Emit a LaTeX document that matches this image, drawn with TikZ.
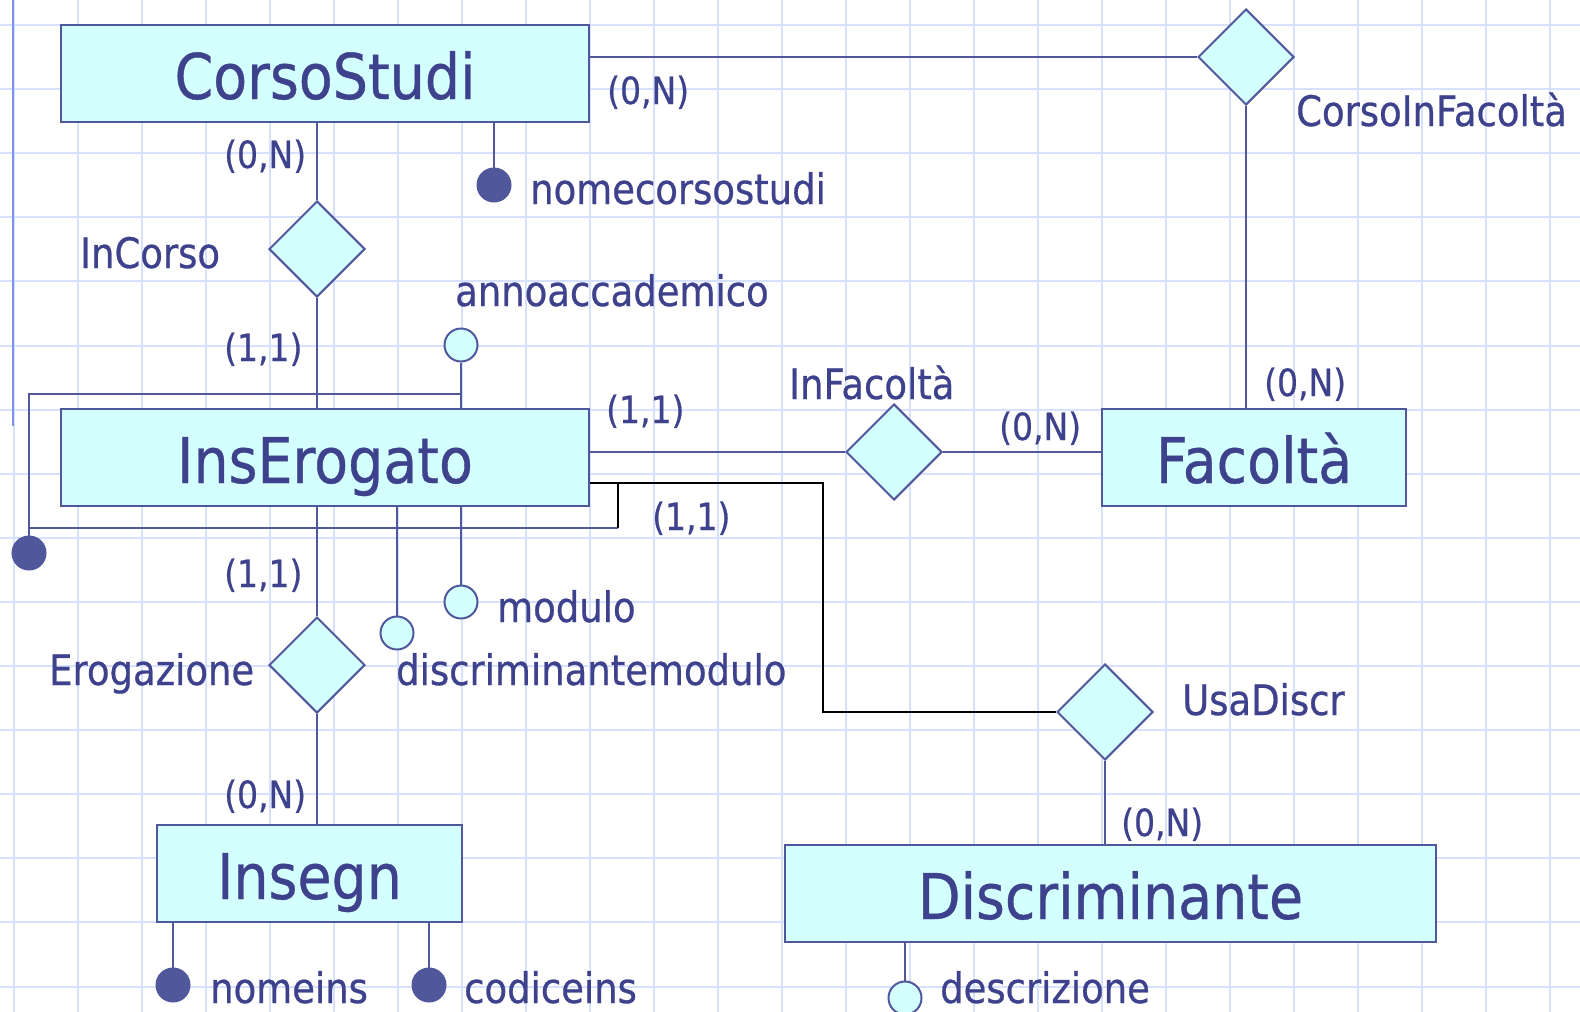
\documentclass[tikz,border=0pt]{standalone}
\usepackage{fontspec}
\setmainfont{DejaVu Sans}[FakeStretch=0.88,FakeBold=0.6]
\usetikzlibrary{shapes.geometric}
\definecolor{txt}{RGB}{62,66,140}
\definecolor{ln}{RGB}{80,88,155}
\definecolor{cy}{RGB}{212,255,255}
\definecolor{gridc}{RGB}{214,224,255}
\definecolor{marg}{RGB}{125,145,235}
\begin{document}
\begin{tikzpicture}[x=1pt,y=-1pt,
  ent/.style={draw=ln, line width=2pt, fill=cy, minimum height=97pt, inner sep=0pt,
    text height=51pt, text depth=0pt, text=txt, font=\fontsize{63}{70}\selectfont},
  rel/.style={diamond, draw=ln, line width=2pt, fill=cy, minimum width=96pt,
    minimum height=96pt, inner sep=0pt},
  attrE/.style={circle, draw=ln, line width=2pt, fill=cy, minimum size=33pt, inner sep=0pt},
  attrF/.style={circle, draw=ln, line width=1pt, fill=ln, minimum size=34pt, inner sep=0pt},
  lab/.style={text=txt, font=\fontsize{42}{50}\selectfont, inner sep=0pt, anchor=base west},
  card/.style={text=txt, font=\fontsize{37.5}{44}\selectfont, inner sep=0pt, anchor=base west},
  conn/.style={draw=ln, line width=2pt},
  blk/.style={draw=black, line width=2pt},
  gridl/.style={draw=gridc, line width=2pt}]
\useasboundingbox (0,0) rectangle (1580,1012);
\fill[white] (0,0) rectangle (1580,1012);
% grid
\foreach \i in {0,...,24} \draw[gridl] (14+64*\i,0) -- (14+64*\i,1012);
\foreach \j in {0,...,15} \draw[gridl] (0,25+64.1*\j) -- (1580,25+64.1*\j);
\draw[draw=marg, line width=2pt] (13,0) -- (13,426);

% entities
\node[ent, minimum width=528pt] (cs) at (325,73.5) {CorsoStudi};
\node[ent, minimum width=528pt] (ie) at (325,457.5) {InsErogato};
\node[ent, minimum width=304pt] (fac) at (1254,457.5) {Facoltà};
\node[ent, minimum width=305pt] (ins) at (309.5,873.5) {Insegn};
\node[ent, minimum width=651pt] (disc) at (1110.5,893.5) {Discriminante};

% relationships
\node[rel] (cif) at (1246,57) {};
\node[rel] (incorso) at (317,249) {};
\node[rel] (infac) at (894,452) {};
\node[rel] (ud) at (1105,712) {};
\node[rel] (erog) at (317,665) {};

% attributes
\node[attrF] (ncs) at (494,185) {};
\node[attrE] (ac) at (461,345) {};
\node[attrE] (mod) at (461,602) {};
\node[attrE] (dm) at (397,633) {};
\node[attrF] (idc) at (29,553) {};
\node[attrF] (ni) at (173,985) {};
\node[attrF] (ci) at (429,985) {};
\node[attrE] (desc) at (905,998) {};

% helper coordinates
\coordinate (k1) at (29,394);
\coordinate (k2) at (29,528);
\coordinate (k3) at (618,528);
\coordinate (u1) at (823,483);

% connectors
\draw[conn] (cif.west) -- (cif.west -| cs.east);
\draw[conn] (cif.south) -- (cif.south |- fac.north);
\draw[conn] (incorso.north) -- (incorso.north |- cs.south);
\draw[conn] (incorso.south) -- (incorso.south |- ie.north);
\draw[conn] (infac.west) -- (infac.west -| ie.east);
\draw[conn] (infac.east) -- (infac.east -| fac.west);
\draw[conn] (erog.north) -- (erog.north |- ie.south);
\draw[conn] (erog.south) -- (erog.south |- ins.north);
\draw[conn] (ud.south) -- (ud.south |- disc.north);
\draw[blk] (u1 -| ie.east) -- (u1) |- (ud.west);
\draw[conn] (ncs.north) -- (ncs.north |- cs.south);
\draw[conn] (ac.south) -- (ac.south |- ie.north);
\draw[conn] (mod.north) -- (mod.north |- ie.south);
\draw[conn] (dm.north) -- (dm.north |- ie.south);
\draw[conn] (ni.north) -- (ni.north |- ins.south);
\draw[conn] (ci.north) -- (ci.north |- ins.south);
\draw[conn] (desc.north) -- (desc.north |- disc.south);
\draw[conn] (ac.south |- k1) -- (k1) -- (idc.north);
\draw[conn] (k2) -- (k3);
\draw[blk] (k3) -- (k3 |- u1);

% labels
\node[card] (c1) at (224,168) {(0,N)};
\node[card] (c2) at (607,104) {(0,N)};
\node[card] (c3) at (224,361) {(1,1)};
\node[card] (c4) at (606,423) {(1,1)};
\node[card] (c5) at (999,440) {(0,N)};
\node[card] (c6) at (1264,396) {(0,N)};
\node[card] (c7) at (652,530) {(1,1)};
\node[card] (c8) at (224,587) {(1,1)};
\node[card] (c9) at (224,808) {(0,N)};
\node[card] (c10) at (1121,836) {(0,N)};

\node[lab] (l1) at (1296,126) {CorsoInFacoltà};
\node[lab] (l2) at (530,204) {nomecorsostudi};
\node[lab] (l3) at (80,268) {InCorso};
\node[lab] (l4) at (455,306) {annoaccademico};
\node[lab] (l5) at (789,399) {InFacoltà};
\node[lab] (l6) at (497,622) {modulo};
\node[lab] (l7) at (49,685) {Erogazione};
\node[lab] (l8) at (396,685) {discriminantemodulo};
\node[lab] (l9) at (1182,715) {UsaDiscr};
\node[lab] (l10) at (210,1003) {nomeins};
\node[lab] (l11) at (464,1003) {codiceins};
\node[lab] (l12) at (940,1003) {descrizione};
\end{tikzpicture}
\end{document}
